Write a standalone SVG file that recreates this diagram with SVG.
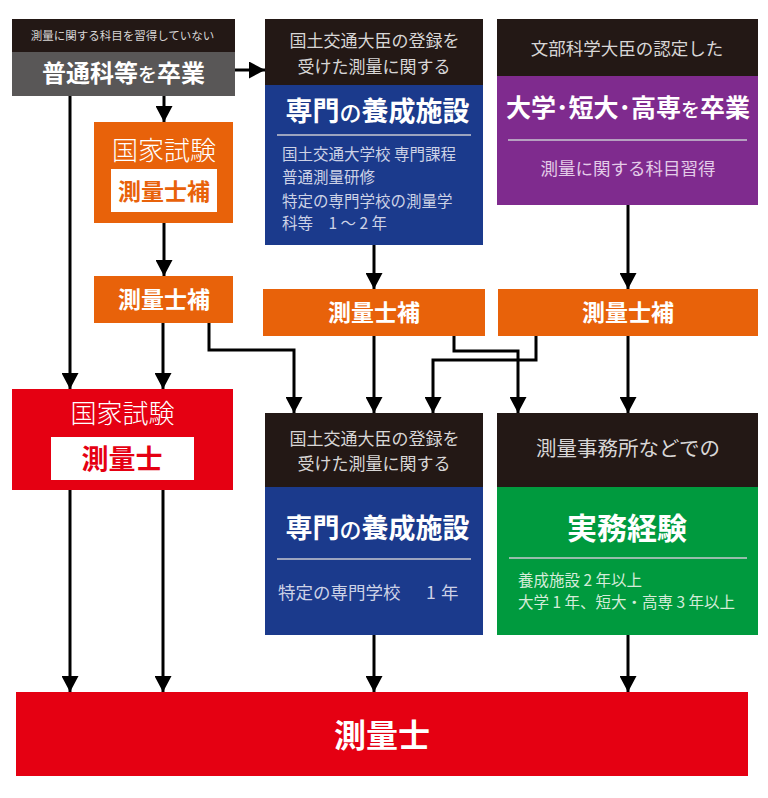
<svg xmlns="http://www.w3.org/2000/svg" width="768" height="798" viewBox="0 0 768 798">
<style>
text{font-family:"Noto Sans CJK JP","Noto Sans CJK SC",sans-serif;}
.hd{fill:#231815;}
.gr{fill:#595757;}
.bl{fill:#1b3a8c;}
.pu{fill:#7f2b8e;}
.or{fill:#e8620a;}
.rd{fill:#e50012;}
.gn{fill:#009a3e;}
.wb{fill:#ffffff;}
.ht{fill:#d8d6d6;text-anchor:middle;font-weight:400;}
.tt{fill:#ffffff;font-weight:700;text-anchor:middle;}
.sm{font-weight:500;}
.it{fill:#cdd2e6;font-size:15.5px;font-weight:400;}
.it2{fill:#cdd2e6;font-size:17.5px;font-weight:400;}
.lt{fill:#ffffff;font-weight:300;text-anchor:middle;font-size:26px;}
.sep{stroke:#c9c9d0;stroke-width:1.5;}
.cn{fill:none;stroke:#000000;stroke-width:3;marker-end:url(#ah);}
</style>
<defs>
<marker id="ah" viewBox="0 0 16 17" refX="16" refY="8.5" markerWidth="16" markerHeight="17" markerUnits="userSpaceOnUse" orient="auto">
<path d="M0,0 L16,8.5 L0,17 z" fill="#000000"/>
</marker>
</defs>
<g id="connectors">
<line class="cn" x1="235" y1="70" x2="265" y2="70"/>
<line class="cn" x1="164" y1="96" x2="164" y2="122"/>
<line class="cn" x1="70" y1="96" x2="70" y2="389"/>
<line class="cn" x1="164" y1="223" x2="164" y2="276"/>
<line class="cn" x1="163" y1="323" x2="163" y2="389"/>
<polyline class="cn" points="209,323 209,350 294,350 294,413"/>
<line class="cn" x1="374" y1="245" x2="374" y2="289"/>
<line class="cn" x1="374" y1="336" x2="374" y2="413"/>
<polyline class="cn" points="454,336 454,351 518,351 518,413"/>
<polyline class="cn" points="536,336 536,360 433,360 433,413"/>
<line class="cn" x1="628" y1="205" x2="628" y2="289"/>
<line class="cn" x1="628" y1="336" x2="628" y2="413"/>
<line class="cn" x1="70" y1="490" x2="70" y2="692"/>
<line class="cn" x1="163" y1="490" x2="163" y2="692"/>
<line class="cn" x1="374" y1="635" x2="374" y2="692"/>
<line class="cn" x1="628" y1="635" x2="628" y2="692"/>
</g>
<g id="n1">
<rect class="hd" x="12" y="19" width="223" height="33"/>
<rect class="gr" x="12" y="52" width="223" height="44"/>
<text class="ht" x="122.5" y="39.5" font-size="11.5">測量に関する科目を習得していない</text>
<text class="tt" x="123.5" y="81.5" font-size="24">普通科等<tspan class="sm" font-size="19">を</tspan>卒業</text>
</g>
<g id="n2">
<rect class="hd" x="265" y="19" width="218" height="66"/>
<rect class="bl" x="265" y="85" width="218" height="160"/>
<text class="ht" x="374.5" y="46.5" font-size="17">国土交通大臣の登録を</text>
<text class="ht" x="374" y="72.5" font-size="17">受けた測量に関する</text>
<text class="tt" x="377.5" y="120.5" font-size="27">専門<tspan class="sm" font-size="22">の</tspan>養成施設</text>
<line class="sep" x1="277" y1="135" x2="471" y2="135"/>
<text class="it" x="282" y="160">国土交通大学校 専門課程</text>
<text class="it" x="282" y="183">普通測量研修</text>
<text class="it" x="282" y="207">特定の専門学校の測量学</text>
<text class="it" x="282" y="229">科等　1 〜 2 年</text>
</g>
<g id="n3">
<rect class="hd" x="497" y="19" width="261" height="57"/>
<rect class="pu" x="497" y="76" width="261" height="129"/>
<text class="ht" x="627" y="54.5" font-size="17.5">文部科学大臣の認定した</text>
<text class="tt" x="628" y="116.5" font-size="25">大学･短大･高専<tspan class="sm" font-size="19">を</tspan>卒業</text>
<line class="sep" x1="508" y1="140" x2="747" y2="140"/>
<text x="628" y="174.5" font-size="17.5" fill="#e3cbe8" text-anchor="middle">測量に関する科目習得</text>
</g>
<g id="n4">
<rect class="or" x="94" y="122" width="139" height="101"/>
<text class="lt" x="164" y="160">国家試験</text>
<rect class="wb" x="111" y="169" width="106" height="43"/>
<text x="164" y="199.5" font-size="23" font-weight="700" fill="#e8620a" text-anchor="middle">測量士補</text>
</g>
<g id="n5">
<rect class="or" x="94" y="276" width="139" height="47"/>
<text class="tt" x="164" y="308" font-size="23">測量士補</text>
</g>
<g id="n6">
<rect class="or" x="263" y="289" width="222" height="47"/>
<text class="tt" x="374" y="320.5" font-size="23">測量士補</text>
</g>
<g id="n7">
<rect class="or" x="498" y="289" width="260" height="47"/>
<text class="tt" x="628" y="320.5" font-size="23">測量士補</text>
</g>
<g id="n8">
<rect class="rd" x="12" y="389" width="221" height="101"/>
<text class="lt" x="122.5" y="423" font-size="27">国家試験</text>
<rect class="wb" x="51" y="437" width="143" height="43"/>
<text x="122" y="469" font-size="27" font-weight="700" fill="#e50012" text-anchor="middle">測量士</text>
</g>
<g id="n9">
<rect class="hd" x="265" y="413" width="218" height="74"/>
<rect class="bl" x="265" y="487" width="218" height="148"/>
<text class="ht" x="374.5" y="444.5" font-size="17">国土交通大臣の登録を</text>
<text class="ht" x="374" y="469.5" font-size="17">受けた測量に関する</text>
<text class="tt" x="377.5" y="537.5" font-size="27">専門<tspan class="sm" font-size="22">の</tspan>養成施設</text>
<line class="sep" x1="277" y1="559" x2="471" y2="559"/>
<text class="it2" x="278" y="598.5">特定の専門学校　<tspan x="426">1</tspan><tspan x="441">年</tspan></text>
</g>
<g id="n10">
<rect class="hd" x="497" y="413" width="261" height="74"/>
<rect class="gn" x="497" y="487" width="261" height="148"/>
<text class="ht" x="628" y="455.5" font-size="20.5">測量事務所などでの</text>
<text class="tt" x="627" y="538.5" font-size="30">実務経験</text>
<line class="sep" x1="509" y1="558" x2="747" y2="558"/>
<text x="518" y="586" font-size="15.5" fill="#d5ecd9">養成施設 2 年以上</text>
<text x="518" y="608" font-size="15.5" fill="#d5ecd9">大学 1 年、短大・高専 3 年以上</text>
</g>
<g id="n11">
<rect class="rd" x="16" y="692" width="732" height="84"/>
<text class="tt" x="382" y="746.5" font-size="32">測量士</text>
</g>
</svg>
